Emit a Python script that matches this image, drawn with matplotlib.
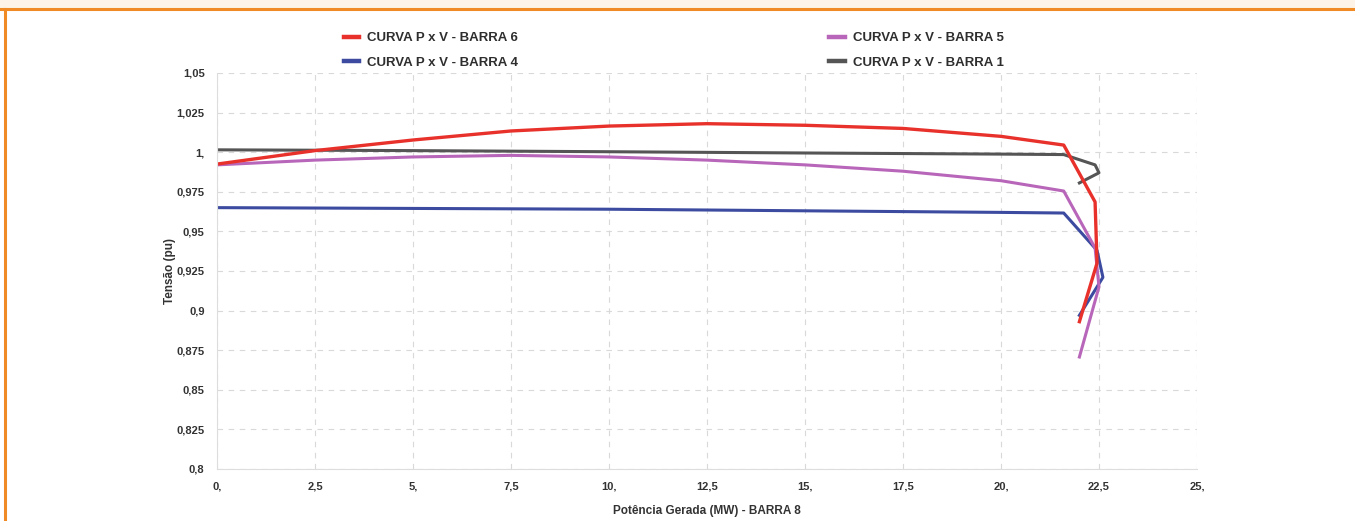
import matplotlib.pyplot as plt
from matplotlib.lines import Line2D
from matplotlib.patches import Rectangle
from matplotlib.ticker import FixedLocator

plt.rcParams["font.family"] = ["Liberation Sans", "DejaVu Sans"]

# potencia gerada (MW) na barra 8 e tensao (pu) em cada barra
p_barra6 = [0.0, 2.5, 5.0, 7.5, 10.0, 12.5, 15.0, 17.5, 20.0, 21.6, 22.4, 22.45, 22.0]
v_barra6 = [0.9925, 1.001, 1.0077, 1.0134, 1.0165, 1.018, 1.017, 1.015, 1.010, 1.0045, 0.9686, 0.930, 0.893]

p_barra5 = [0.0, 2.5, 5.0, 7.5, 10.0, 12.5, 15.0, 17.5, 20.0, 21.6, 22.4, 22.5, 22.0]
v_barra5 = [0.992, 0.995, 0.997, 0.998, 0.997, 0.995, 0.992, 0.988, 0.982, 0.9755, 0.9395, 0.915, 0.8707]

p_barra4 = [0.0, 5.0, 10.0, 15.0, 20.0, 21.6, 22.45, 22.6, 22.0]
v_barra4 = [0.965, 0.9645, 0.964, 0.963, 0.962, 0.9616, 0.938, 0.921, 0.897]

p_barra1 = [0.0, 5.0, 10.0, 15.0, 20.0, 21.6, 22.4, 22.5, 22.0]
v_barra1 = [1.0015, 1.001, 1.0003, 0.9995, 0.9988, 0.9985, 0.992, 0.987, 0.9806]

x_ticks = [0, 2.5, 5, 7.5, 10, 12.5, 15, 17.5, 20, 22.5, 25]
x_labels = ["0,", "2,5", "5,", "7,5", "10,", "12,5", "15,", "17,5", "20,", "22,5", "25,"]
y_ticks = [0.8, 0.825, 0.85, 0.875, 0.9, 0.925, 0.95, 0.975, 1.0, 1.025, 1.05]
y_labels = ["0,8", "0,825", "0,85", "0,875", "0,9", "0,925", "0,95", "0,975", "1,", "1,025", "1,05"]

c6, c5, c4, c1 = "#e8312b", "#b866b9", "#3c4ba0", "#555555"

fig = plt.figure(figsize=(13.55, 5.21), dpi=100)
fig.patch.set_facecolor("white")
# moldura laranja
fig.patches.append(Rectangle((0, 1 - 7 / 521), 1, 7 / 521, transform=fig.transFigure,
                             color="#fdf3e6", zorder=0))
fig.add_artist(Line2D([0, 1], [1 - 8.5 / 521] * 2, transform=fig.transFigure,
                      color="#f08a24", lw=2.2))
fig.add_artist(Line2D([5 / 1355] * 2, [0, 1 - 8.5 / 521], transform=fig.transFigure,
                      color="#f08a24", lw=2.2))

ax = fig.add_axes([217 / 1355, 52 / 521, 980 / 1355, 396 / 521])
ax.plot(p_barra1, v_barra1, color=c1, lw=2.2)
ax.plot(p_barra4, v_barra4, color=c4, lw=2.2)
ax.plot(p_barra5, v_barra5, color=c5, lw=2.2)
ax.plot(p_barra6, v_barra6, color=c6, lw=2.4)

ax.set_xlim(0, 25)
ax.set_ylim(0.8, 1.05)
ax.xaxis.set_major_locator(FixedLocator(x_ticks))
ax.yaxis.set_major_locator(FixedLocator(y_ticks))
ax.set_xticklabels(x_labels)
ax.set_yticklabels(y_labels)
ax.tick_params(length=0, labelsize=8, labelcolor="#333333", pad=9)
for lab in ax.get_xticklabels() + ax.get_yticklabels():
    lab.set_fontweight("bold")
ax.grid(True, color="#d9d9d9", ls=(0, (5, 5)), lw=0.8)
for s in ["top", "right"]:
    ax.spines[s].set_visible(False)
for s in ["left", "bottom"]:
    ax.spines[s].set_color("#dddddd")

ax.set_xlabel("Potência Gerada (MW) - BARRA 8", fontsize=8.5, fontweight="bold",
              color="#333333", labelpad=10)
ax.set_ylabel("Tensão (pu)", fontsize=8.5, fontweight="bold", color="#333333", labelpad=0)

handles = [Line2D([], [], color=c6, lw=3.2), Line2D([], [], color=c4, lw=3.2),
           Line2D([], [], color=c5, lw=3.2), Line2D([], [], color=c1, lw=3.2)]
labels = ["CURVA P x V - BARRA 6", "CURVA P x V - BARRA 4",
          "CURVA P x V - BARRA 5", "CURVA P x V - BARRA 1"]
leg = fig.legend(handles, labels, ncol=2, loc="upper left", bbox_to_anchor=(344 / 1355, 1 - 32 / 521),
                 frameon=False, handlelength=1.15, handletextpad=0.6, columnspacing=23.6,
                 labelspacing=0.95, prop={"size": 9.5, "weight": "bold"}, borderaxespad=0, borderpad=0)
for t in leg.get_texts():
    t.set_color("#2e2e2e")

fig.savefig("out.png", dpi=100)
